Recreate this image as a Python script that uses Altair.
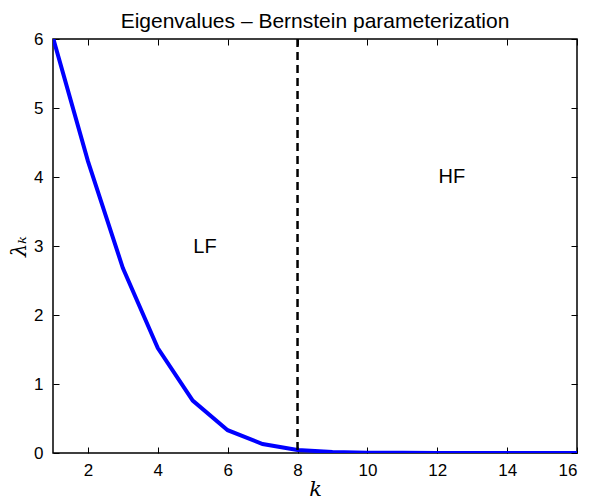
import altair as alt
import pandas as pd

k_vals = list(range(1, 17))
lam_vals = [6.02, 4.23, 2.68, 1.52, 0.76, 0.33, 0.13, 0.045, 0.015, 0.005, 0.002, 0.001, 0.0005, 0.0002, 0.0001, 0.0]
x_ticks = [2, 4, 6, 8, 10, 12, 14, 16]
y_ticks = [0, 1, 2, 3, 4, 5, 6]
split_k = [8]
label_text = ["LF", "HF"]
label_x = [5.35, 12.42]
label_y = [2.99, 4.0]

df = pd.DataFrame({"k": k_vals, "lam": lam_vals})
split_df = pd.DataFrame({"k": split_k})
lab_df = pd.DataFrame({"t": label_text, "x": label_x, "y": label_y})

xs = alt.Scale(domain=[1, 16], nice=False, zero=False)
ys = alt.Scale(domain=[0, 6], nice=False)

def xaxis(orient, labels, title=None):
    kw = dict(orient=orient, values=x_ticks, tickSize=6, offset=-6, domain=False,
              labels=labels, grid=False, tickColor="black", tickWidth=1)
    if labels:
        kw.update(labelPadding=9, labelFont="Liberation Sans", labelFontSize=17, labelColor="black")
    if title:
        kw.update(title=title, titleFont="DejaVu Serif", titleFontStyle="italic", titleFontWeight="normal",
                  titleFontSize=21, titleColor="black", titlePadding=0)
    else:
        kw.update(title=None)
    return alt.Axis(**kw)

def yaxis(orient, labels, title=None):
    kw = dict(orient=orient, values=y_ticks, tickSize=6, offset=-6, domain=False,
              labels=labels, grid=False, tickColor="black", tickWidth=1)
    if labels:
        kw.update(labelPadding=10, labelFont="Liberation Sans", labelFontSize=17, labelColor="black")
    if title:
        kw.update(title=title, titleFont="DejaVu Serif", titleFontStyle="italic", titleFontWeight="normal",
                  titleFontSize=21, titleColor="black", titlePadding=4)
    else:
        kw.update(title=None)
    return alt.Axis(**kw)

line = alt.Chart(df).mark_line(color="#0000ff", strokeWidth=4, clip=True).encode(
    x=alt.X("k:Q", scale=xs, axis=xaxis("bottom", True, "k")),
    y=alt.Y("lam:Q", scale=ys, axis=yaxis("left", True, "λₖ")),
)

frame = alt.Chart(df).mark_point(opacity=0).encode(
    x=alt.X("k:Q", scale=xs, axis=xaxis("top", False)),
    y=alt.Y("lam:Q", scale=ys, axis=yaxis("right", False)),
)

split = alt.Chart(split_df).mark_rule(color="black", strokeWidth=2.5, strokeDash=[8, 5]).encode(
    x=alt.X("k:Q", scale=xs, axis=None),
)

labels = alt.Chart(lab_df).mark_text(font="Liberation Sans", fontSize=20, color="black").encode(
    x=alt.X("x:Q", scale=xs, axis=None),
    y=alt.Y("y:Q", scale=ys, axis=None),
    text="t:N",
)

chart = alt.layer(line, frame, split, labels).resolve_axis(x="independent", y="independent").properties(
    width=524,
    height=414,
    title=alt.TitleParams("Eigenvalues – Bernstein parameterization", font="Liberation Sans",
                          fontSize=21, fontWeight="normal", color="black", offset=-2),
    autosize=alt.AutoSizeParams(type="none"),
    padding={"left": 45, "top": 31, "right": 4, "bottom": 45},
).configure_view(stroke="black", strokeWidth=1.5)

chart.save("out.html", embed_options={"renderer": "svg", "actions": False})
